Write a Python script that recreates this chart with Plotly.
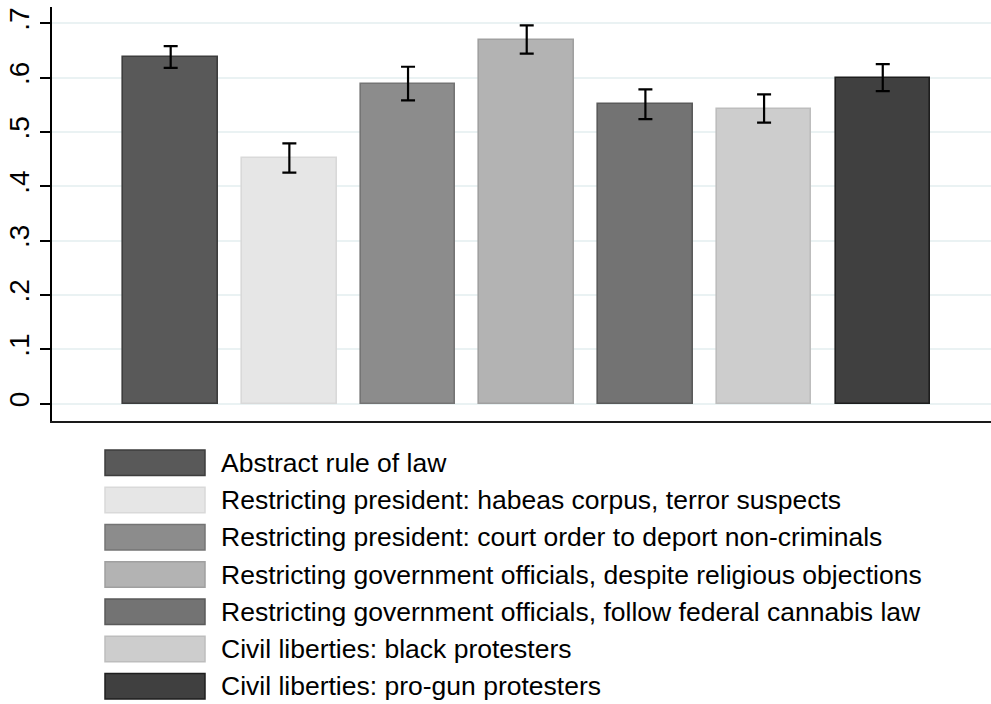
import plotly.graph_objects as go

# ---- data ----
categories = [
    "Abstract rule of law",
    "Restricting president: habeas corpus, terror suspects",
    "Restricting president: court order to deport non-criminals",
    "Restricting government officials, despite religious objections",
    "Restricting government officials, follow federal cannabis law",
    "Civil liberties: black protesters",
    "Civil liberties: pro-gun protesters",
]
means = [0.638, 0.452, 0.589, 0.670, 0.551, 0.543, 0.600]
ci_half = [0.020, 0.027, 0.031, 0.026, 0.0275, 0.026, 0.025]
y_ticks = [0, 0.1, 0.2, 0.3, 0.4, 0.5, 0.6, 0.7]
y_tick_labels = ["0", ".1", ".2", ".3", ".4", ".5", ".6", ".7"]

# ---- style ----
fills = ["#595959", "#e6e6e6", "#8c8c8c", "#b3b3b3", "#737373", "#cdcdcd", "#404040"]
outlines = ["#3d3d3d", "#d9d9d9", "#747474", "#a0a0a0", "#5a5a5a", "#bdbdbd", "#1e1e1e"]
FONT = "Arial, Liberation Sans, sans-serif"

W, H = 991, 704
L, R, T, B = 52, 0, 7, 283

x_pos = list(range(1, len(categories) + 1))

fig = go.Figure()
fig.add_trace(go.Bar(
    x=x_pos,
    y=means,
    width=0.796,
    marker=dict(color=fills, line=dict(color=outlines, width=1.6)),
    error_y=dict(type="data", array=ci_half, visible=True,
                 color="black", thickness=2.2, width=7),
    showlegend=False,
))

plot_h = H - T - B
plot_w = W - L - R


def px_x(px):
    return (px - L) / plot_w


def px_y(py):
    return (H - B - py) / plot_h


# legend drawn as boxes + text
shapes = []
annotations = []
row0_top = 450.0
pitch = 37.25
box_h = 25.5
for i, (lab, fc, oc) in enumerate(zip(categories, fills, outlines)):
    top = row0_top + i * pitch
    shapes.append(dict(type="rect", xref="paper", yref="paper",
                       x0=px_x(105), x1=px_x(205),
                       y0=px_y(top + box_h), y1=px_y(top),
                       fillcolor=fc, line=dict(color=oc, width=1.5),
                       layer="above"))
    annotations.append(dict(xref="paper", yref="paper",
                            x=px_x(219), y=px_y(top + box_h / 2),
                            xanchor="left", yanchor="middle",
                            text=lab, showarrow=False,
                            font=dict(family=FONT, size=26.5, color="black")))

fig.update_layout(
    width=W, height=H,
    margin=dict(l=L, r=R, t=T, b=B, pad=0),
    paper_bgcolor="white", plot_bgcolor="white",
    font=dict(family=FONT, color="black"),
    bargap=0,
    xaxis=dict(range=[0, 7.912], showticklabels=False, ticks="",
               showgrid=False, zeroline=False,
               showline=True, linecolor="#1a1a1a", linewidth=2),
    yaxis=dict(range=[-0.032, 0.730], tickvals=y_ticks, ticktext=y_tick_labels,
               tickangle=-90, tickfont=dict(family=FONT, size=28, color="black"),
               ticks="outside", ticklen=10, tickwidth=1.5, tickcolor="black",
               showgrid=True, gridcolor="#eaf2f3", gridwidth=1.5,
               zeroline=False, showline=True, linecolor="black", linewidth=1.5),
    shapes=shapes,
    annotations=annotations,
)

fig.write_html("out.html")
